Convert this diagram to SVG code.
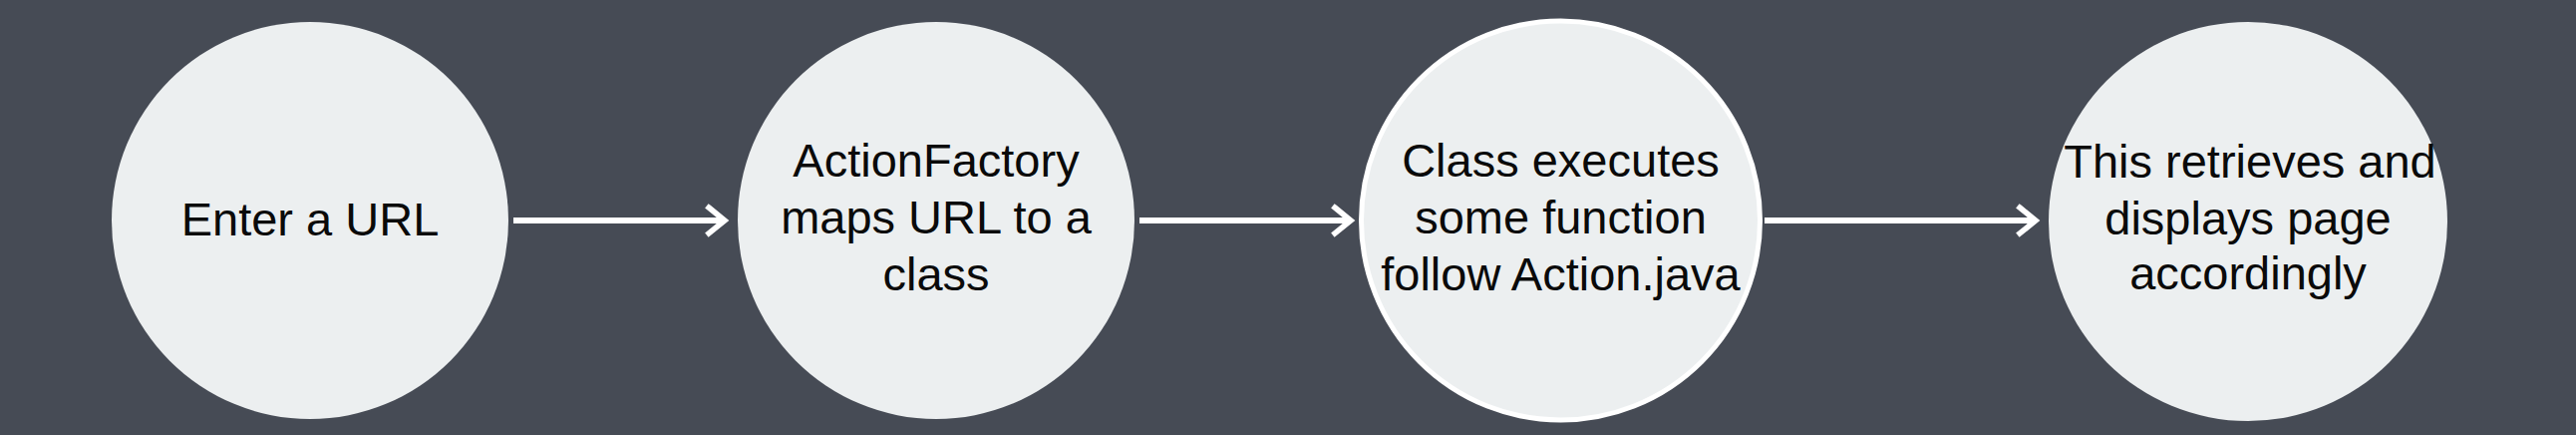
<svg xmlns="http://www.w3.org/2000/svg" width="2584" height="436" viewBox="0 0 2584 436">
  <defs>
    <style>
      .bg { fill: #464b55; }
      .node { fill: #eceff0; }
      .node-hl { fill: #eceff0; stroke: #ffffff; stroke-width: 5; }
      .label { font-family: "Liberation Sans", Arial, Helvetica, sans-serif; font-size: 47px; fill: #0a0a0a; text-anchor: middle; }
      .edge { stroke: #ffffff; stroke-width: 6; fill: none; }
      .head { stroke: #ffffff; stroke-width: 5.5; fill: none; stroke-linecap: square; stroke-linejoin: miter; }
    </style>
  </defs>
  <rect class="bg" x="0" y="0" width="2584" height="436"/>

  <g id="connectors">
    <g id="edge-1">
      <line class="edge" x1="515" y1="221" x2="724" y2="221"/>
      <polyline class="head" points="711,208 727,221 711,234"/>
    </g>
    <g id="edge-2">
      <line class="edge" x1="1143" y1="221" x2="1352" y2="221"/>
      <polyline class="head" points="1339,208 1355,221 1339,234"/>
    </g>
    <g id="edge-3">
      <line class="edge" x1="1770" y1="221" x2="2039" y2="221"/>
      <polyline class="head" points="2026,208 2042,221 2026,234"/>
    </g>
  </g>

  <g id="node-enter-url">
    <circle class="node" cx="311" cy="221" r="199"/>
    <text class="label" x="311" y="236">Enter a URL</text>
  </g>

  <g id="node-action-factory">
    <circle class="node" cx="939" cy="221" r="199"/>
    <text class="label" x="939" y="177">ActionFactory</text>
    <text class="label" x="939" y="234">maps URL to a</text>
    <text class="label" x="939" y="291">class</text>
  </g>

  <g id="node-class-executes">
    <circle class="node-hl" cx="1565.5" cy="221" r="200"/>
    <text class="label" x="1565.5" y="177">Class executes</text>
    <text class="label" x="1565.5" y="234">some function</text>
    <text class="label" x="1565.5" y="291">follow Action.java</text>
  </g>

  <g id="node-retrieves">
    <circle class="node" cx="2255" cy="222" r="200"/>
    <text class="label" x="2257" y="178">This retrieves and</text>
    <text class="label" x="2255" y="235">displays page</text>
    <text class="label" x="2255" y="290">accordingly</text>
  </g>
</svg>
